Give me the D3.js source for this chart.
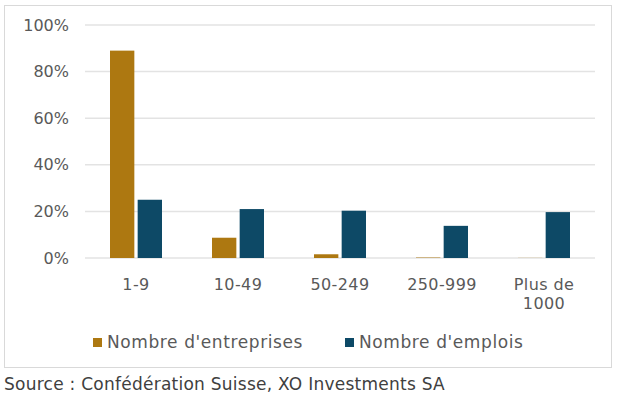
<!DOCTYPE html>
<html>
<head>
<meta charset="utf-8">
<script src="https://cdn.jsdelivr.net/npm/d3@7"></script>
<style>
  body { margin: 0; background: #fff; }
  text { font-family: "DejaVu Sans", sans-serif; }
</style>
</head>
<body>
<svg id="chart"></svg>
<script>
var categories = ["1-9", "10-49", "50-249", "250-999", "Plus de 1000"]
var seriesNames = ["Nombre d'entreprises", "Nombre d'emplois"]
var entreprises = [89, 8.7, 1.6, 0.2, 0.05]
var emplois = [25, 21, 20.3, 13.8, 19.7]
var yTicks = [0, 20, 40, 60, 80, 100]
var colors = ["#ad7811", "#0d4966"]

var dimensions = {
    width: 622,
    height: 396,
    margin: { top: 25, bottom: 138, right: 27, left: 85 }
}

var svg = d3.select("#chart")
    .attr("width", dimensions.width)
    .attr("height", dimensions.height)

// frame around the chart
svg.append("rect")
    .attr("x", 4.5).attr("y", 5.5)
    .attr("width", 607).attr("height", 362)
    .attr("fill", "none")
    .attr("stroke", "#d9d9d9")

var xScale = d3.scaleBand()
    .domain(categories)
    .range([dimensions.margin.left, dimensions.width - dimensions.margin.right])

var xInner = d3.scaleBand()
    .domain(seriesNames)
    .range([0, 52])
    .paddingInner(0.12)

var yScale = d3.scaleLinear()
    .domain([0, 100])
    .range([dimensions.height - dimensions.margin.bottom, dimensions.margin.top])

// gridlines
svg.append("g")
    .selectAll("line")
    .data(yTicks)
    .enter()
    .append("line")
    .attr("x1", dimensions.margin.left)
    .attr("x2", dimensions.width - dimensions.margin.right)
    .attr("y1", d => yScale(d))
    .attr("y2", d => yScale(d))
    .attr("stroke", "#e3e3e3")
    .attr("stroke-width", 1.5)

var yAxisGen = d3.axisLeft(yScale)
    .tickValues(yTicks)
    .tickFormat(d => d + "%")
    .tickSize(0)
    .tickPadding(16)

var yAxis = svg.append("g")
    .attr("transform", "translate(" + dimensions.margin.left + ",0)")
    .call(yAxisGen)
yAxis.select(".domain").remove()
yAxis.selectAll("text")
    .style("font-family", "DejaVu Sans")
    .style("font-size", "16px")
    .attr("fill", "#595959")

// bars
var rows = categories.map((c, i) => ({ cat: c, values: [entreprises[i], emplois[i]] }))

var groups = svg.append("g")
    .selectAll("g")
    .data(rows)
    .enter()
    .append("g")
    .attr("transform", d => "translate(" + (xScale(d.cat) + (xScale.bandwidth() - 52) / 2) + ",0)")

groups.selectAll("rect")
    .data(d => d.values.map((v, j) => ({ name: seriesNames[j], value: v, j: j })))
    .enter()
    .append("rect")
    .attr("x", d => xInner(d.name))
    .attr("width", xInner.bandwidth())
    .attr("y", d => yScale(d.value))
    .attr("height", d => yScale(0) - yScale(d.value))
    .attr("fill", d => colors[d.j])

// x labels
var xLabels = svg.append("g")
    .selectAll("text")
    .data(categories)
    .enter()
    .append("text")
    .attr("x", d => xScale(d) + xScale.bandwidth() / 2)
    .attr("y", 290)
    .attr("text-anchor", "middle")
    .style("font-size", "16px")
    .style("letter-spacing", "0.4px")
    .attr("fill", "#595959")

xLabels.each(function(d) {
    var parts = d === "Plus de 1000" ? ["Plus de", "1000"] : [d]
    var t = d3.select(this)
    parts.forEach((p, k) => {
        t.append("tspan")
            .attr("x", xScale(d) + xScale.bandwidth() / 2)
            .attr("dy", k === 0 ? 0 : 19)
            .text(p)
    })
})

// legend
var legendX = [93, 345]
var legend = svg.append("g")
    .selectAll("g")
    .data(seriesNames)
    .enter()
    .append("g")
    .attr("transform", (d, i) => "translate(" + legendX[i] + ",342)")
legend.append("rect")
    .attr("x", 0).attr("y", -4)
    .attr("width", 9).attr("height", 9)
    .attr("fill", (d, i) => colors[i])
legend.append("text")
    .attr("x", 14)
    .attr("y", 6)
    .style("font-size", "17px")
    .style("letter-spacing", "0.6px")
    .attr("fill", "#595959")
    .text(d => d)

// source
svg.append("text")
    .attr("x", 4)
    .attr("y", 390)
    .style("font-size", "17px")
    .style("letter-spacing", "0.25px")
    .attr("fill", "#404040")
    .text("Source : Confédération Suisse, XO Investments SA")
</script>
</body>
</html>
